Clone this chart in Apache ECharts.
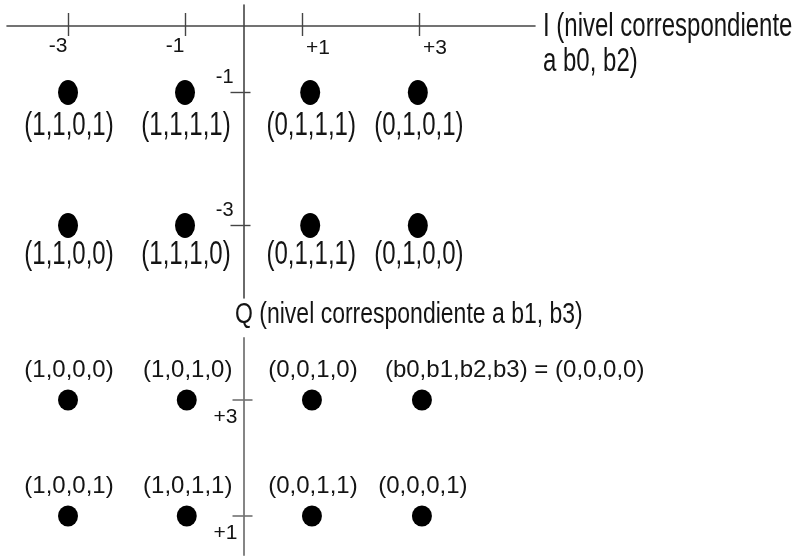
<!DOCTYPE html>
<html><head><meta charset="utf-8">
<script src="https://cdn.jsdelivr.net/npm/echarts@6/dist/echarts.min.js"></script>
<style>html,body{margin:0;padding:0;background:#fff}#c{width:798px;height:557px}</style>
</head><body><div id="c"></div>
<script>
// Axis ticks and tick labels
const iTicks = [-3, -1, 1, 3];
const iTickLabels = ['-3', '-1', '+1', '+3'];
const qTopTicks = [-1, -3];
const qTopTickLabels = ['-1', '-3'];
const qBottomTicks = [3, 1];
const qBottomTickLabels = ['+3', '+1'];

// Constellation point positions
const dotITop = [-3, -1, 1.14, 2.98];
const dotIBottom = [-3, -0.97, 1.17, 3.05];
const rowQTop = [-1, -3];
const rowQBottom = [3, 1];

// Bit labels per row
const bitsQm1 = ['(1,1,0,1)', '(1,1,1,1)', '(0,1,1,1)', '(0,1,0,1)'];
const bitsQm3 = ['(1,1,0,0)', '(1,1,1,0)', '(0,1,1,1)', '(0,1,0,0)'];
const bitsQp3 = ['(1,0,0,0)', '(1,0,1,0)', '(0,0,1,0)', '(b0,b1,b2,b3) = (0,0,0,0)'];
const bitsQp1 = ['(1,0,0,1)', '(1,0,1,1)', '(0,0,1,1)', '(0,0,0,1)'];

const iAxisName = 'I (nivel correspondiente\na b0, b2)';
const qAxisName = 'Q (nivel correspondiente a b1, b3)';

const FONT = '"Liberation Sans", Arial, Helvetica, sans-serif';
const TXT = '#141414';

const topPoints = [], topLabels = [];
[bitsQm1, bitsQm3].forEach((row, r) => row.forEach((t, c) => { topPoints.push([dotITop[c], rowQTop[r]]); topLabels.push(t); }));
const bottomPoints = [], bottomLabels = [];
[bitsQp3, bitsQp1].forEach((row, r) => row.forEach((t, c) => { bottomPoints.push([dotIBottom[c], rowQBottom[r]]); bottomLabels.push(t); }));

const iNeg = iTicks.filter(v => v < 0), iPos = iTicks.filter(v => v > 0);
const iFmt = v => iTickLabels[iTicks.indexOf(v)];

const X_MIN = -4.043, X_MAX = 4.983;
const QT_MIN = -4.09, QT_MAX = 0.316;
const QB_MIN = 0.328, QB_MAX = 4.069;
const PLOT_LEFT = 7, PLOT_W = 528;
const ZERO_X = PLOT_LEFT + PLOT_W * (0 - X_MIN) / (X_MAX - X_MIN);
const AX_TOP = '#454545', AX_BOT = '#858585';

function g(left, top, width, height) {
  return { left: left, top: top, width: width, height: height, containLabel: false, outerBoundsMode: 'none' };
}
function hidden(type, grid, min, max) {
  return { type: type, gridIndex: grid, min: min, max: max, show: false, splitLine: { show: false } };
}
const lbl = (extra) => Object.assign({ color: TXT, fontFamily: FONT }, extra);

const option = {
  animation: false,
  backgroundColor: '#fff',
  grid: [
    g(PLOT_LEFT, 5, PLOT_W, 293),      // 0 top plot
    g(PLOT_LEFT, 338, PLOT_W, 217),    // 1 bottom plot
    g(PLOT_LEFT, 5, PLOT_W, 21),       // 2 I axis (bottom edge = axis line)
    g(ZERO_X, 5, 100, 293),            // 3 Q axis upper part
    g(ZERO_X, 338, 100, 217)           // 4 Q axis lower part
  ],
  xAxis: [
    hidden('value', 0, X_MIN, X_MAX),
    hidden('value', 1, X_MIN, X_MAX),
    { type: 'value', gridIndex: 2, min: X_MIN, max: X_MAX, position: 'bottom', splitLine: { show: false },
      axisLine: { show: true, onZero: false, lineStyle: { color: AX_TOP, width: 1.6 } },
      axisTick: { show: true, inside: false, length: 10, customValues: iTicks, lineStyle: { color: AX_TOP, width: 1.4 } },
      axisLabel: lbl({ customValues: iNeg, margin: 10, fontSize: 21, padding: [0, 20, 0, 0], formatter: iFmt }) },
    { type: 'value', gridIndex: 2, min: X_MIN, max: X_MAX, position: 'bottom', splitLine: { show: false },
      axisLine: { show: false, onZero: false },
      axisTick: { show: true, inside: true, length: 13, customValues: iTicks, lineStyle: { color: AX_TOP, width: 1.4 } },
      axisLabel: lbl({ customValues: iPos, margin: 12, fontSize: 21, padding: [0, 0, 0, 32], formatter: iFmt }) },
    hidden('value', 3, 0, 1),
    hidden('value', 4, 0, 1)
  ],
  yAxis: [
    hidden('value', 0, QT_MIN, QT_MAX),
    hidden('value', 1, QB_MIN, QB_MAX),
    hidden('value', 2, 0, 1),
    { type: 'value', gridIndex: 3, min: QT_MIN, max: QT_MAX, position: 'left', splitLine: { show: false },
      axisLine: { show: true, onZero: false, lineStyle: { color: AX_TOP, width: 1.6 } },
      axisTick: { show: true, inside: false, length: 13, customValues: qTopTicks, lineStyle: { color: AX_TOP, width: 1.4 } },
      axisLabel: lbl({ customValues: qTopTicks, margin: 10, fontSize: 20,
        formatter: v => '{a|' + qTopTickLabels[qTopTicks.indexOf(v)] + '}',
        rich: { a: { fontSize: 20, fontFamily: FONT, color: TXT, padding: [0, 0, 30, 0] } } }) },
    { type: 'value', gridIndex: 3, min: QT_MIN, max: QT_MAX, position: 'left', splitLine: { show: false },
      axisLine: { show: false, onZero: false },
      axisTick: { show: true, inside: true, length: 7, customValues: qTopTicks, lineStyle: { color: AX_TOP, width: 1.4 } },
      axisLabel: { show: false } },
    { type: 'value', gridIndex: 4, min: QB_MIN, max: QB_MAX, position: 'left', splitLine: { show: false },
      axisLine: { show: true, onZero: false, lineStyle: { color: AX_BOT, width: 2 } },
      axisTick: { show: true, inside: false, length: 11, customValues: qBottomTicks, lineStyle: { color: '#707070', width: 1.6 } },
      axisLabel: lbl({ customValues: qBottomTicks, margin: 6, fontSize: 21,
        formatter: v => '{a|' + qBottomTickLabels[qBottomTicks.indexOf(v)] + '}',
        rich: { a: { fontSize: 21, fontFamily: FONT, color: TXT, padding: [34, 0, 0, 0] } } }) },
    { type: 'value', gridIndex: 4, min: QB_MIN, max: QB_MAX, position: 'left', splitLine: { show: false },
      axisLine: { show: false, onZero: false },
      axisTick: { show: true, inside: true, length: 9, customValues: qBottomTicks, lineStyle: { color: '#707070', width: 1.6 } },
      axisLabel: { show: false } }
  ],
  graphic: [
    { type: 'text', x: 543, y: 44.5, scaleY: 1.35, silent: true,
      style: { text: iAxisName, fontSize: 24, fontFamily: FONT, fill: TXT, align: 'left', verticalAlign: 'middle', lineHeight: 26 } },
    { type: 'text', x: 235, y: 315, scaleY: 1.3, silent: true,
      style: { text: qAxisName, fontSize: 23, fontFamily: FONT, fill: TXT, align: 'left', verticalAlign: 'middle' } }
  ],
  series: [
    { type: 'scatter', xAxisIndex: 0, yAxisIndex: 0, data: topPoints, symbol: 'circle', symbolSize: [20, 25],
      itemStyle: { color: '#000', opacity: 1 }, silent: true },
    { type: 'scatter', xAxisIndex: 1, yAxisIndex: 1, data: bottomPoints, symbol: 'circle', symbolSize: [20, 21],
      itemStyle: { color: '#000', opacity: 1 }, silent: true },
    { type: 'custom', xAxisIndex: 0, yAxisIndex: 0, data: topPoints, silent: true,
      renderItem: (params, api) => {
        const p = api.coord([api.value(0), api.value(1)]);
        const dy = api.value(1) === -1 ? 34 : 30;
        return { type: 'text', x: p[0] + 1, y: p[1] + dy, scaleY: 1.35,
          style: { text: topLabels[params.dataIndex], fontSize: 24, fontFamily: FONT, fill: TXT, align: 'center', verticalAlign: 'middle' } };
      } },
    { type: 'custom', xAxisIndex: 1, yAxisIndex: 1, data: bottomPoints, silent: true,
      renderItem: (params, api) => {
        const p = api.coord([api.value(0), api.value(1)]);
        const txt = bottomLabels[params.dataIndex];
        const wide = txt.length > 12;
        return { type: 'text', x: wide ? p[0] - 37 : p[0] + 1, y: p[1] - 30,
          style: { text: txt, fontSize: 24, fontFamily: FONT, fill: TXT, align: wide ? 'left' : 'center', verticalAlign: 'middle' } };
      } }
  ]
};

const chart = echarts.init(document.getElementById('c'), null, { renderer: 'canvas' });
chart.setOption(option);
</script>
</body></html>
